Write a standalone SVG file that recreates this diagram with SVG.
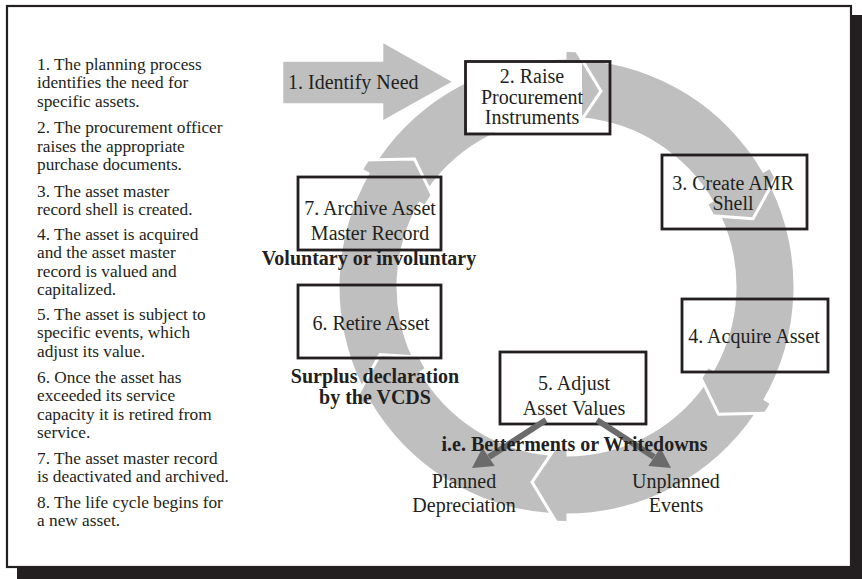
<svg xmlns="http://www.w3.org/2000/svg" xmlns:xlink="http://www.w3.org/1999/xlink" width="862" height="579" viewBox="0 0 862 579">
  <style>
    .txt { font-family: 'Liberation Serif', 'DejaVu Serif', serif; fill: #231f20; }
    .note { font-size: 17.3px; }
    .lbl { font-size: 20px; text-anchor: middle; }
    .bold { font-size: 20px; font-weight: bold; text-anchor: middle; }
    .box { fill: none; stroke: #231f20; stroke-width: 2.8; }
    .ring { fill: #bfbfbf; }
    .seam { fill: none; stroke: #ffffff; stroke-width: 3; stroke-linejoin: miter; }
    .branch { stroke: #6b6b6b; stroke-width: 6; fill: none; }
    .tip { fill: #6b6b6b; }
  </style>
  <defs>
    <!-- one 60-degree arc segment of the cycle: notched tail at 0deg, arrow head at 60deg -->
    <path id="seg" d="M -23.73 -225.76 A 227 227 0 0 1 173.89 -145.91 L 179.64 -150.73 L 186.54 -142.10 L 171.91 -99.25 L 133.52 -95.23 L 125.63 -105.42 L 130.23 -109.27 A 170 170 0 0 0 -13.04 -169.50 L 0 -198.5 Z"/>
    <polyline id="seamline" points="188.6 -148.1 171.91 -99.25 130.8 -94.9"/>
  </defs>

  <!-- page frame with drop shadow -->
  <g id="frame">
    <rect x="852" y="15" width="10" height="564" fill="#231f20"/>
    <rect x="17" y="568" width="845" height="11" fill="#231f20"/>
    <rect x="7" y="6" width="844" height="561" fill="#ffffff" stroke="#231f20" stroke-width="2.2"/>
  </g>

  <!-- explanatory notes -->
  <g id="notes" class="txt note">
    <text x="37" y="70">1. The planning process</text>
    <text x="37" y="88.3">identifies the need for</text>
    <text x="37" y="106.7">specific assets.</text>
    <text x="37" y="133.3">2. The procurement officer</text>
    <text x="37" y="151.7">raises the appropriate</text>
    <text x="37" y="170">purchase documents.</text>
    <text x="37" y="196.7">3. The asset master</text>
    <text x="37" y="215">record shell is created.</text>
    <text x="37" y="240">4. The asset is acquired</text>
    <text x="37" y="258.3">and the asset master</text>
    <text x="37" y="276.7">record is valued and</text>
    <text x="37" y="295">capitalized.</text>
    <text x="37" y="320">5. The asset is subject to</text>
    <text x="37" y="338.3">specific events, which</text>
    <text x="37" y="356.7">adjust its value.</text>
    <text x="37" y="383">6. Once the asset has</text>
    <text x="37" y="401.3">exceeded its service</text>
    <text x="37" y="419.7">capacity it is retired from</text>
    <text x="37" y="438">service.</text>
    <text x="37" y="464">7. The asset master record</text>
    <text x="37" y="482.3">is deactivated and archived.</text>
    <text x="37" y="508">8. The life cycle begins for</text>
    <text x="37" y="526.3">a new asset.</text>
  </g>

  <!-- the cycle ring: six arrow segments -->
  <g id="cycle" transform="translate(566.5 286.6)">
    <g class="ring">
      <use xlink:href="#seg" transform="rotate(10)"/>
      <use xlink:href="#seg" transform="rotate(70)"/>
      <use xlink:href="#seg" transform="rotate(130)"/>
      <use xlink:href="#seg" transform="rotate(190)"/>
      <use xlink:href="#seg" transform="rotate(250)"/>
      <use xlink:href="#seg" transform="rotate(310)"/>
    </g>
    <g class="seam">
      <use xlink:href="#seamline" transform="rotate(10)"/>
      <use xlink:href="#seamline" transform="rotate(70)"/>
      <use xlink:href="#seamline" transform="rotate(130)"/>
      <use xlink:href="#seamline" transform="rotate(190)"/>
      <use xlink:href="#seamline" transform="rotate(250)"/>
      <use xlink:href="#seamline" transform="rotate(310)"/>
    </g>
  </g>

  <!-- step 1: entry arrow -->
  <g id="node-1">
    <polygon class="ring" points="283.3,61.7 383.3,61.7 383.3,43.3 451.7,81.7 383.3,120 383.3,103.3 283.3,103.3"/>
    <text class="txt" x="288" y="89" font-size="20">1. Identify Need</text>
  </g>

  <g id="node-2">
    <rect x="467" y="62.5" width="115" height="70" fill="#ffffff"/>
    <rect class="box" x="465.5" y="61.5" width="144.5" height="72.5"/>
    <text class="txt lbl" x="532" y="83.3">2. Raise</text>
    <text class="txt lbl" x="532" y="104.3">Procurement</text>
    <text class="txt lbl" x="532" y="124.3">Instruments</text>
  </g>

  <g id="node-3">
    <rect class="box" x="662" y="155" width="145" height="74"/>
    <text class="txt lbl" x="733" y="190">3. Create AMR</text>
    <text class="txt lbl" x="733" y="210">Shell</text>
  </g>

  <g id="node-4">
    <rect class="box" x="682" y="299" width="146" height="73"/>
    <text class="txt lbl" x="754" y="342.5">4. Acquire Asset</text>
  </g>

  <g id="node-5">
    <rect class="box" x="500" y="352" width="146" height="72"/>
    <text class="txt lbl" x="574" y="390">5. Adjust</text>
    <text class="txt lbl" x="574" y="415">Asset Values</text>
  </g>

  <g id="node-6">
    <rect class="box" x="298" y="285" width="143" height="73"/>
    <text class="txt lbl" x="371" y="330">6. Retire Asset</text>
    <text class="txt bold" x="375" y="382.5">Surplus declaration</text>
    <text class="txt bold" x="375" y="404">by the VCDS</text>
  </g>

  <g id="node-7">
    <rect class="box" x="298" y="177" width="143" height="73"/>
    <text class="txt lbl" x="370" y="215">7. Archive Asset</text>
    <text class="txt lbl" x="370" y="240">Master Record</text>
    <text class="txt bold" x="369" y="265">Voluntary or involuntary</text>
  </g>

  <!-- branches from step 5 -->
  <g id="connectors">
    <line class="branch" x1="546" y1="420" x2="489" y2="457"/>
    <polygon class="tip" points="472,468 494.7,466 482.5,447.8"/>
    <line class="branch" x1="597" y1="420" x2="654" y2="457"/>
    <polygon class="tip" points="671,468 648.3,466 660.5,447.8"/>
  </g>

  <g id="node-5-labels">
    <text class="txt bold" x="574.5" y="450.7">i.e. Betterments or Writedowns</text>
    <text class="txt lbl" x="464" y="488">Planned</text>
    <text class="txt lbl" x="464" y="512">Depreciation</text>
    <text class="txt lbl" x="676" y="488">Unplanned</text>
    <text class="txt lbl" x="676" y="512">Events</text>
  </g>
</svg>
